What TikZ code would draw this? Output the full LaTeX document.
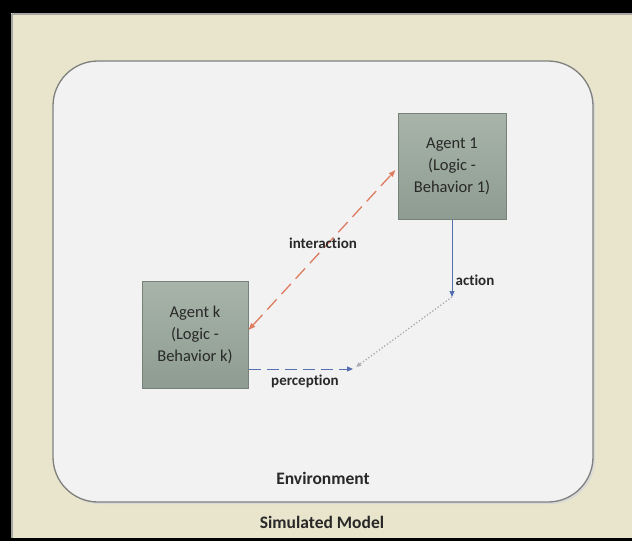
\documentclass[tikz,border=0pt]{standalone}
\usepackage{fontspec}
\setmainfont[Ligatures=NoCommon]{Carlito}
\usetikzlibrary{arrows.meta}
\definecolor{panelbeige}{RGB}{232,229,204}
\definecolor{envfill}{RGB}{242,242,243}
\definecolor{envline}{RGB}{128,128,124}
\definecolor{agenttop}{RGB}{168,180,170}
\definecolor{agentbot}{RGB}{142,156,145}
\definecolor{agentline}{RGB}{120,130,122}
\definecolor{interred}{RGB}{222,124,96}
\definecolor{flowblue}{RGB}{84,112,176}
\definecolor{dotgray}{RGB}{170,170,178}
\definecolor{labeltext}{RGB}{40,40,40}
\tikzset{
  agentbox/.style={draw=agentline, line width=1pt, top color=agenttop, bottom color=agentbot,
    align=center, font=\fontsize{16.5}{22}\selectfont, text=labeltext, inner sep=0pt},
  flowlabel/.style={font=\bfseries\fontsize{15}{17}\selectfont, text=labeltext},
  titlelabel/.style={font=\bfseries\fontsize{17.5}{19}\selectfont, text=labeltext},
  tip/.style={-{Triangle[length=6pt,width=5pt]}},
}
\begin{document}
\begin{tikzpicture}[x=1pt,y=-1pt]
\useasboundingbox (0,0) rectangle (632,541);
% outer frame and beige model panel
\fill[black] (0,0) rectangle (632,541);
\fill[panelbeige] (11,13) rectangle (632,538);
\draw[envline!70, line width=1.5pt] (11.5,13.8) -- (632,13.8);
\draw[envline!70, line width=1.5pt] (11.8,13.8) -- (11.8,538);
% environment area
\fill[black!15, rounded corners=45pt] (55,63.5) rectangle (595,504);
\draw[envline, fill=envfill, line width=1.3pt, rounded corners=45pt] (53,61) rectangle (593,502);
% agents
\node[agentbox, minimum width=108pt, minimum height=106pt] (a1) at (452,166) {Agent 1\\(Logic -\\Behavior 1)};
\node[agentbox, minimum width=106pt, minimum height=107pt] (ak) at (195,334.5) {Agent k\\(Logic -\\Behavior k)};
% flow points
\coordinate (act) at (452,297);
\coordinate (perc) at (356,367);
\coordinate (pend) at (353,369);
% interaction
\draw[interred, line width=1.3pt, dash pattern=on 14pt off 7pt,
  {Triangle[length=7pt,width=5pt]}-{Triangle[length=7pt,width=5pt]}]
  ([yshift=4.5pt]ak.east) -- ([yshift=-4pt,xshift=-2pt]a1.west);
% action
\draw[flowblue, line width=1pt, tip] (a1.south) -- (act);
% environment effect
\draw[dotgray, line width=1.3pt, dotted, -{Triangle[length=5pt,width=4pt]}] (act) -- (perc);
% perception
\draw[flowblue, line width=1pt, dash pattern=on 12pt off 6pt, tip] ([yshift=-34.5pt]ak.east) -- (pend);
% labels
\node[flowlabel] (linter) at (323,243) {interaction};
\node[flowlabel] (lact) at (475,280) {action};
\node[flowlabel] (lperc) at (305,381) {perception};
\node[titlelabel] (lenv) at (323,478) {Environment};
\node[titlelabel] (lsim) at (322,522) {Simulated Model};
\end{tikzpicture}
\end{document}
